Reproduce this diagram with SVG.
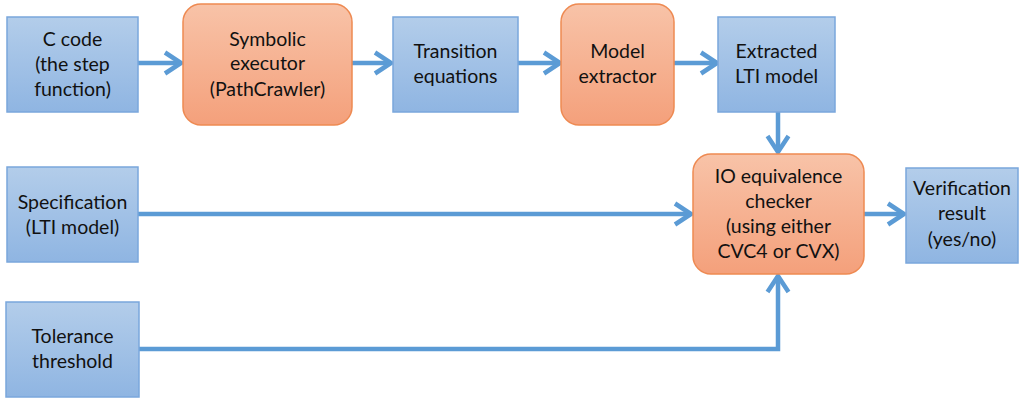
<svg xmlns="http://www.w3.org/2000/svg" width="1021" height="399" viewBox="0 0 1021 399">
  <defs>
    <linearGradient id="blueFill" x1="0" y1="0" x2="0" y2="1">
      <stop offset="0" stop-color="#b3cdea"/>
      <stop offset="1" stop-color="#8fb5e2"/>
    </linearGradient>
    <linearGradient id="orangeFill" x1="0" y1="0" x2="0" y2="1">
      <stop offset="0" stop-color="#f8c3a8"/>
      <stop offset="1" stop-color="#f4a07b"/>
    </linearGradient>
    <marker id="chevron" markerUnits="userSpaceOnUse" viewBox="0 0 22 26" refX="19" refY="13" markerWidth="22" markerHeight="26" orient="auto">
      <path d="M3,2.5 L19,13 L3,23.5" fill="none" stroke="#5b9bd5" stroke-width="4.5" stroke-linejoin="miter"/>
    </marker>
  </defs>
  <style>
    .blue { fill: url(#blueFill); stroke: #7aa7dc; stroke-width: 1.5; }
    .orange { fill: url(#orangeFill); stroke: #ee8a52; stroke-width: 1.5; }
    .label { font-family: Lato, "Liberation Sans", sans-serif; font-size: 19.5px; fill: #111; text-anchor: middle; }
    .link { fill: none; stroke: #5b9bd5; stroke-width: 4.5; marker-end: url(#chevron); }
  </style>

  <g id="connectors">
    <path class="link" d="M138,63 L181,63"/>
    <path class="link" d="M352,63 L391,63"/>
    <path class="link" d="M518,63 L560,63"/>
    <path class="link" d="M674,63 L717,63"/>
    <path class="link" d="M778,112 L778,152"/>
    <path class="link" d="M138,214 L691,214"/>
    <path class="link" d="M864,214 L904,214"/>
    <path class="link" d="M138,349 L778,349 L778,276"/>
  </g>

  <g id="c-code">
    <rect class="blue" x="7" y="17" width="131" height="95"/>
    <text class="label" x="72.5" y="46">C code</text>
    <text class="label" x="72.5" y="71">(the step</text>
    <text class="label" x="72.5" y="96">function)</text>
  </g>

  <g id="symbolic-executor">
    <rect class="orange" x="183" y="4" width="169" height="121" rx="18"/>
    <text class="label" x="267.5" y="46">Symbolic</text>
    <text class="label" x="267.5" y="70">executor</text>
    <text class="label" x="267.5" y="96">(PathCrawler)</text>
  </g>

  <g id="transition-equations">
    <rect class="blue" x="393" y="17" width="125" height="95"/>
    <text class="label" x="455.5" y="58">Transition</text>
    <text class="label" x="455.5" y="83">equations</text>
  </g>

  <g id="model-extractor">
    <rect class="orange" x="561" y="4" width="113" height="121" rx="18"/>
    <text class="label" x="617.5" y="58">Model</text>
    <text class="label" x="617.5" y="83">extractor</text>
  </g>

  <g id="extracted-model">
    <rect class="blue" x="718" y="17" width="117" height="95"/>
    <text class="label" x="776.5" y="58">Extracted</text>
    <text class="label" x="776.5" y="83">LTI model</text>
  </g>

  <g id="specification">
    <rect class="blue" x="7" y="167" width="131" height="95"/>
    <text class="label" x="72.5" y="209">Specification</text>
    <text class="label" x="72.5" y="234">(LTI model)</text>
  </g>

  <g id="io-checker">
    <rect class="orange" x="693" y="154" width="171" height="120" rx="18"/>
    <text class="label" x="778.5" y="183">IO equivalence</text>
    <text class="label" x="778.5" y="208">checker</text>
    <text class="label" x="778.5" y="233">(using either</text>
    <text class="label" x="778.5" y="258">CVC4 or CVX)</text>
  </g>

  <g id="verification-result">
    <rect class="blue" x="906" y="168" width="112" height="95"/>
    <text class="label" x="962" y="195">Verification</text>
    <text class="label" x="962" y="220">result</text>
    <text class="label" x="962" y="246">(yes/no)</text>
  </g>

  <g id="tolerance">
    <rect class="blue" x="6" y="302" width="133" height="95"/>
    <text class="label" x="72.5" y="343">Tolerance</text>
    <text class="label" x="72.5" y="368">threshold</text>
  </g>
</svg>
